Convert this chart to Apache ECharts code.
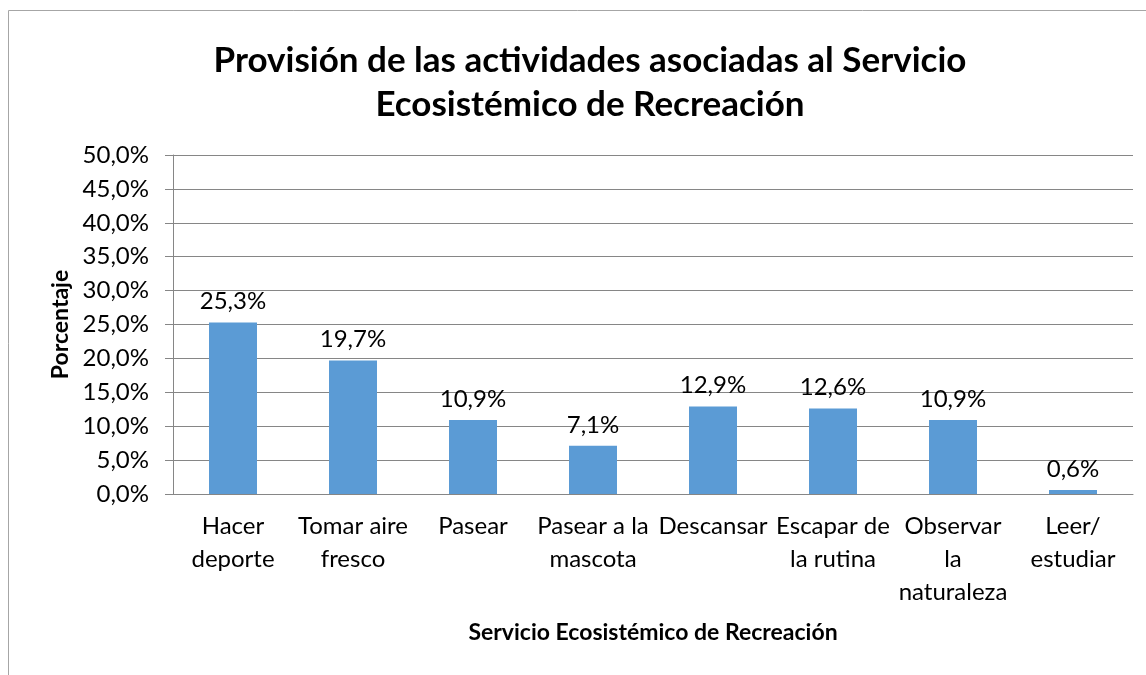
<!DOCTYPE html>
<html>
<head>
<meta charset="utf-8">
<script src="https://cdn.jsdelivr.net/npm/echarts@6/dist/echarts.min.js"></script>
<style>
  html, body { margin: 0; padding: 0; background: #fff; }
  #chart { width: 1146px; height: 675px; }
</style>
</head>
<body>
<div id="chart"></div>
<script>
var categories = ['Hacer\ndeporte', 'Tomar aire\nfresco', 'Pasear', 'Pasear a la\nmascota', 'Descansar', 'Escapar de\nla rutina', 'Observar\nla\nnaturaleza', 'Leer/\nestudiar'];
var porcentajes = [25.3, 19.7, 10.9, 7.1, 12.9, 12.6, 10.9, 0.6];

var FONT = 'Lato, "Open Sans", sans-serif';
function pct(v) { return Number(v).toFixed(1).replace('.', ',') + '%'; }

var chart = echarts.init(document.getElementById('chart'));
var option = {
  backgroundColor: '#fff',
  textStyle: { fontFamily: FONT },
  graphic: [{
    type: 'rect',
    shape: { x: 8.5, y: 10.5, width: 1300, height: 800 },
    style: { fill: 'none', stroke: '#a6a6a6', lineWidth: 1 },
    silent: true
  }],
  title: {
    text: 'Provisión de las actividades asociadas al Servicio\nEcosistémico de Recreación',
    left: 585,
    top: 34,
    textAlign: 'center',
    textStyle: { fontFamily: FONT, fontSize: 35, fontWeight: 'bold', color: '#000', lineHeight: 44 }
  },
  grid: { left: 173, right: 13, top: 155, bottom: 181 },
  xAxis: {
    type: 'category',
    data: categories,
    name: 'Servicio Ecosistémico de Recreación',
    nameLocation: 'middle',
    nameGap: 127,
    nameTextStyle: { fontFamily: FONT, fontSize: 23, fontWeight: 'bold', color: '#000' },
    axisLine: { lineStyle: { color: '#868686', width: 1 } },
    axisTick: { length: 8, lineStyle: { color: '#868686' } },
    axisLabel: { interval: 0, margin: 16, fontFamily: FONT, fontSize: 24, color: '#000', lineHeight: 33 }
  },
  yAxis: {
    type: 'value',
    min: 0,
    max: 50,
    interval: 5,
    name: 'Porcentaje',
    nameLocation: 'middle',
    nameGap: 100,
    nameRotate: 90,
    nameTextStyle: { fontFamily: FONT, fontSize: 23, fontWeight: 'bold', color: '#000' },
    axisLine: { show: true, lineStyle: { color: '#868686', width: 1 } },
    axisTick: { show: true, length: 8, lineStyle: { color: '#868686' } },
    axisLabel: { margin: 24, fontFamily: FONT, fontSize: 24, color: '#000', formatter: pct },
    splitLine: { lineStyle: { color: '#868686', width: 1 } }
  },
  series: [{
    type: 'bar',
    data: porcentajes,
    barWidth: 48,
    itemStyle: { color: '#5b9bd5' },
    label: {
      show: true,
      position: 'top',
      distance: 9,
      fontFamily: FONT,
      fontSize: 24,
      color: '#000',
      formatter: function (p) { return pct(p.value); }
    }
  }]
};
chart.setOption(option);
</script>
</body>
</html>
